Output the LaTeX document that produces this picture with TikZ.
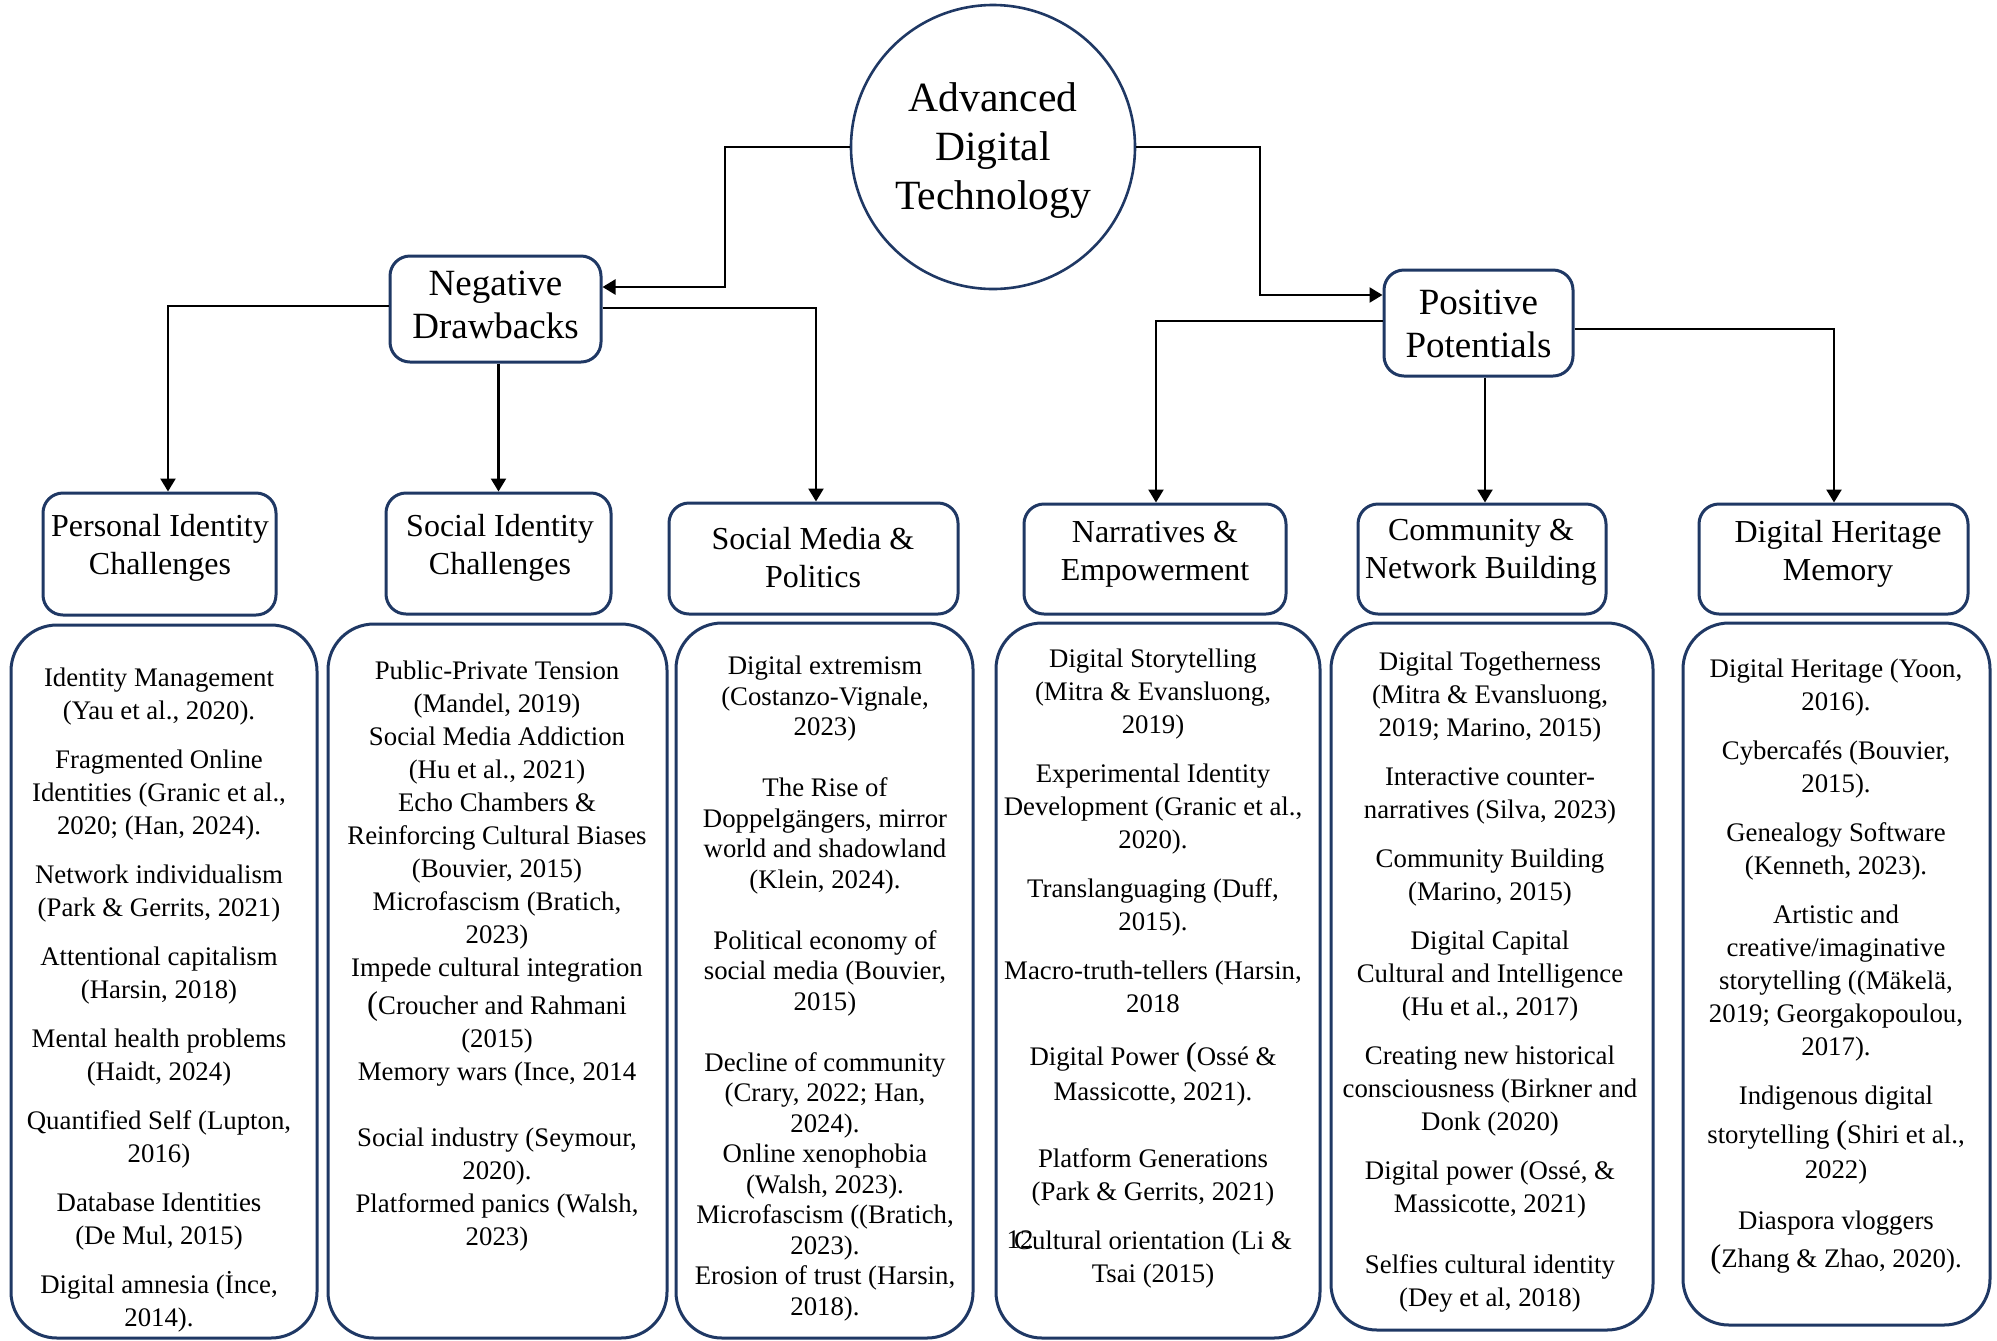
\documentclass[tikz,border=0pt]{standalone}
\usepackage{fontspec}
\setmainfont{Liberation Serif}
\usetikzlibrary{arrows.meta}
\definecolor{navy}{HTML}{1F3864}
\newcommand\bigparen{\smash{\fontsize{16.5}{16.5}\selectfont(}}
\tikzset{
  hdrbox/.style={draw=navy, line width=1.5pt, rounded corners=10pt, inner sep=0pt},
  itembox/.style={draw=navy, line width=1.5pt, rounded corners=23pt, inner sep=0pt},
  hdrtext/.style={font=\fontsize{16}{19}\selectfont, align=center, inner sep=0pt},
  toptext/.style={font=\fontsize{18.5}{21.5}\selectfont, align=center, inner sep=0pt},
  itemtext/.style={font=\fontsize{13.4}{16.5}\selectfont, align=center, inner sep=0pt, anchor=north},
  conn/.style={draw=black, line width=1.2pt, -{Triangle[width=7.5pt,length=6.5pt]}},
}
\begin{document}
\begin{tikzpicture}[x=0.5pt,y=-0.5pt]
\fill[white] (0,0) rectangle (1997,1340);
\useasboundingbox (0,0) rectangle (1997,1340);

% top circle
\node[circle, draw=navy, line width=1.3pt, minimum size=142pt, inner sep=0pt] (circ) at (993,147) {};
\node[font=\fontsize{20.8}{24.5}\selectfont, align=center, inner sep=0pt] (circt) at (993,151)
      {Advanced\\Digital\\Technology};

% second level
\node[hdrbox, minimum width=105.5pt, minimum height=53pt] (neg) at (495.5,309) {};
\node[toptext] (negt) at (495.5,305) {Negative\\Drawbacks};
\node[hdrbox, minimum width=94.5pt, minimum height=53pt] (pos) at (1478.5,323) {};
\node[toptext] (post) at (1478.5,324) {Positive\\Potentials};

% headers
\node[hdrbox, minimum width=116.5pt, minimum height=61pt] (h1) at (159.5,554) {};
\node[hdrbox, minimum width=112.5pt, minimum height=60.5pt] (h2) at (498.5,553.5) {};
\node[hdrbox, minimum width=144.5pt, minimum height=55.5pt] (h3) at (813.5,558.5) {};
\node[hdrbox, minimum width=131pt, minimum height=55pt] (h4) at (1155,559) {};
\node[hdrbox, minimum width=124pt, minimum height=55pt] (h5) at (1482,559) {};
\node[hdrbox, minimum width=134.5pt, minimum height=55pt] (h6) at (1833.5,559) {};

\node[hdrtext] (h1t) at (160,548) {Personal Identity\\Challenges};
\node[hdrtext] (h2t) at (500,548) {Social Identity\\Challenges};
\node[hdrtext] (h3t) at (813,558) {Social Media \&\\Politics};
\node[hdrtext] (h4t) at (1155,554) {Narratives \&\\Empowerment};
\node[hdrtext] (h5t) at (1481,552) {Community \&\\Network Building};
\node[hdrtext] (h6t) at (1838,554) {Digital Heritage\\Memory};

% content boxes
\node[itembox, minimum width=153pt, minimum height=356.5pt] (c1) at (164,981.5) {};
\node[itembox, minimum width=169.5pt, minimum height=357pt] (c2) at (497.5,981) {};
\node[itembox, minimum width=148.5pt, minimum height=357.5pt] (c3) at (824.5,980.5) {};
\node[itembox, minimum width=162pt, minimum height=357.5pt] (c4) at (1158,980.5) {};
\node[itembox, minimum width=161pt, minimum height=353.5pt] (c5) at (1492,976.5) {};
\node[itembox, minimum width=153.5pt, minimum height=351pt] (c6) at (1836.5,974) {};

% content texts
\node[itemtext] (t1) at (159,663) {\strut Identity Management\\(Yau et al., 2020).\\[8pt]
Fragmented Online\\Identities (Granic et al.,\\2020; (Han, 2024).\\[8pt]
Network individualism\\(Park \& Gerrits, 2021)\\[8pt]
Attentional capitalism\\(Harsin, 2018)\\[8pt]
Mental health problems\\(Haidt, 2024)\\[8pt]
Quantified Self (Lupton,\\2016)\\[8pt]
Database Identities\\(De Mul, 2015)\\[8pt]
Digital amnesia (İnce,\\2014).};

\node[itemtext] (t2) at (497,656) {\strut Public-Private Tension\\(Mandel, 2019)\\
Social Media Addiction\\(Hu et al., 2021)\\
Echo Chambers \&\\Reinforcing Cultural Biases\\(Bouvier, 2015)\\
Microfascism (Bratich,\\2023)\\
Impede cultural integration\\[2.5pt]
\bigparen Croucher and Rahmani\\(2015)\\
Memory wars (Ince, 2014\\[16.5pt]
Social industry (Seymour,\\2020).\\
Platformed panics (Walsh,\\2023)};

\node[itemtext, font=\fontsize{13.4}{15.25}\selectfont] (t3) at (825,653) {\strut Digital extremism\\(Costanzo-Vignale,\\2023)\\[15.25pt]
The Rise of\\Doppelgängers, mirror\\world and shadowland\\(Klein, 2024).\\[15.25pt]
Political economy of\\social media (Bouvier,\\2015)\\[15.25pt]
Decline of community\\(Crary, 2022; Han,\\2024).\\
Online xenophobia\\(Walsh, 2023).\\
Microfascism ((Bratich,\\2023).\\
Erosion of trust (Harsin,\\2018).};

\node[itemtext] (t4) at (1153,644) {\strut Digital Storytelling\\(Mitra \& Evansluong,\\2019)\\[8pt]
Experimental Identity\\Development (Granic et al.,\\2020).\\[8pt]
Translanguaging (Duff,\\2015).\\[8pt]
Macro-truth-tellers (Harsin,\\2018\\[10pt]
Digital Power \bigparen Ossé \&\\[1pt]
Massicotte, 2021).\\[17pt]
Platform Generations\\(Park \& Gerrits, 2021)\\[8pt]
Cultural orientation (Li \&\\Tsai (2015)};

\node[itemtext, anchor=center] (pgnum) at (1020,1240) {12};

\node[itemtext] (t5) at (1490,647) {\strut Digital Togetherness\\(Mitra \& Evansluong,\\2019; Marino, 2015)\\[8pt]
Interactive counter-\\narratives (Silva, 2023)\\[8pt]
Community Building\\(Marino, 2015)\\[8pt]
Digital Capital\\Cultural and Intelligence\\(Hu et al., 2017)\\[8pt]
Creating new historical\\consciousness (Birkner and\\Donk (2020)\\[8pt]
Digital power (Ossé, \&\\Massicotte, 2021)\\[14pt]
Selfies cultural identity\\(Dey et al, 2018)};

\node[itemtext] (t6) at (1836,654) {\strut Digital Heritage (Yoon,\\2016).\\[8pt]
Cybercafés (Bouvier,\\2015).\\[8pt]
Genealogy Software\\(Kenneth, 2023).\\[8pt]
Artistic and\\creative/imaginative\\storytelling ((Mäkelä,\\2019; Georgakopoulou,\\2017).\\[8pt]
Indigenous digital\\[3pt]
storytelling \bigparen Shiri et al.,\\[1pt]
2022)\\[9pt]
Diaspora vloggers\\[2.5pt]
\bigparen Zhang \& Zhao, 2020).};

% connectors
\coordinate (kL) at (725,287);
\coordinate (kR) at (1260,295);
\draw[conn] (circ.west) -| (kL) -- (kL -| neg.east);
\draw[conn] (circ.east) -| (kR) -- (kR -| pos.west);

\coordinate (a1) at (168,306);
\coordinate (a3) at (816,308);
\coordinate (a4) at (1156,321);
\coordinate (a5) at (1485,0);
\coordinate (a6) at (1834,329);
\draw[conn] (a1 -| neg.west) -- (a1) -- (a1 |- h1.north);
\draw[conn] (neg.south -| h2.north) -- (h2.north);
\draw[conn] (a3 -| neg.east) -- (a3) -- (a3 |- h3.north);
\draw[conn] (a4 -| pos.west) -- (a4) -- (a4 |- h4.north);
\draw[conn] (a5 |- pos.south) -- (a5 |- h5.north);
\draw[conn] (a6 -| pos.east) -- (a6) -- (a6 |- h6.north);
\end{tikzpicture}
\end{document}
